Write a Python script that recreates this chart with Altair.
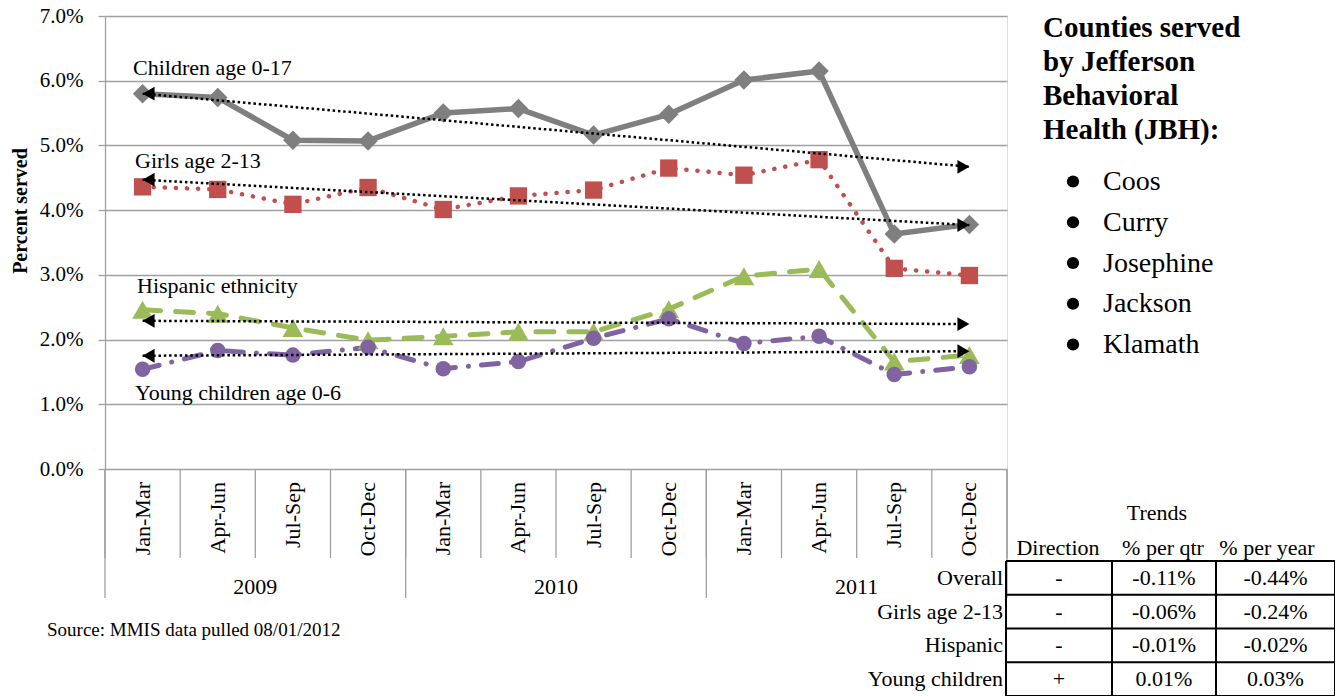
import altair as alt
import pandas as pd

# ---------------- data ----------------
quarters = ["Jan-Mar", "Apr-Jun", "Jul-Sep", "Oct-Dec"]
years = ["2009", "2010", "2011"]
series_names = ["Children age 0-17", "Girls age 2-13", "Hispanic ethnicity", "Young children age 0-6"]
children = [5.80, 5.74, 5.08, 5.07, 5.50, 5.57, 5.16, 5.48, 6.01, 6.15, 3.63, 3.78]
girls = [4.36, 4.32, 4.09, 4.35, 4.01, 4.22, 4.31, 4.65, 4.54, 4.78, 3.10, 2.99]
hispanic = [2.46, 2.40, 2.18, 1.99, 2.05, 2.12, 2.12, 2.47, 2.98, 3.09, 1.66, 1.76]
young = [1.54, 1.83, 1.76, 1.88, 1.55, 1.66, 2.02, 2.32, 1.94, 2.05, 1.46, 1.58]
trend_start = [5.80, 4.47, 2.29, 1.75]
trend_end = [4.67, 3.77, 2.24, 1.82]
y_ticks = [0, 1, 2, 3, 4, 5, 6, 7]
y_title = "Percent served"
source_note = "Source: MMIS data pulled 08/01/2012"
legend_title = ["Counties served", "by Jefferson", "Behavioral", "Health (JBH):"]
counties = ["Coos", "Curry", "Josephine", "Jackson", "Klamath"]
table_title = "Trends"
table_headers = ["Direction", "% per qtr", "% per year"]
table_rows = ["Overall", "Girls age 2-13", "Hispanic", "Young children"]
direction = ["-", "-", "-", "+"]
per_qtr = ["-0.11%", "-0.06%", "-0.01%", "0.01%"]
per_year = ["-0.44%", "-0.24%", "-0.02%", "0.03%"]

# ---------------- layout / style ----------------
FONT = "Liberation Serif"
W, H = 902, 453
PAD = {"left": 97, "top": 8, "right": 328, "bottom": 227}
GRID = "#A0A0A0"
styles = {
    "Children age 0-17": dict(color="#7F7F7F", width=5.5, dash=None, cap="butt", shape="diamond", size=380),
    "Girls age 2-13": dict(color="#C0504D", width=4.5, dash=[0.1, 11], cap="round", shape="square", size=300),
    "Hispanic ethnicity": dict(color="#9BBB59", width=5, dash=[18, 15], cap="round", shape="triangle-up", size=430),
    "Young children age 0-6": dict(color="#8064A2", width=5, dash=[17, 13, 0.1, 13], cap="round", shape="circle", size=240),
}

n_per = len(years) * len(quarters)
rows = []
for name, vals in zip(series_names, [children, girls, hispanic, young]):
    for i, v in enumerate(vals):
        rows.append({"series": name, "i": i, "v": v / 100.0})
df = pd.DataFrame(rows)

trend_rows = []
for name, s, e in zip(series_names, trend_start, trend_end):
    trend_rows.append({"series": name, "i": 0, "v": s / 100.0, "end": "start"})
    trend_rows.append({"series": name, "i": n_per - 1, "v": e / 100.0, "end": "end"})
trend_df = pd.DataFrame(trend_rows)

x_scale = alt.Scale(domain=[-0.5, n_per - 0.5], nice=False, zero=False)
y_scale = alt.Scale(domain=[0, 0.07], nice=False)
X = alt.X("i:Q", scale=x_scale, axis=None)
Y = alt.Y(
    "v:Q",
    scale=y_scale,
    axis=alt.Axis(
        values=[t / 100.0 for t in y_ticks], format=".1%", title=None,
        grid=True, gridColor=GRID, gridWidth=1.3,
        domainColor=GRID, domainWidth=1.3, tickColor=GRID, tickWidth=1.3, tickSize=7,
        labelFont=FONT, labelFontSize=21, labelColor="black", labelPadding=15,
    ),
)

layers = []

# x-axis decorations (separators, quarter and year labels)
sep_df = pd.DataFrame({"i": [k - 0.5 for k in range(n_per + 1)]})
layers.append(alt.Chart(sep_df).mark_rule(color=GRID, strokeWidth=1.3).encode(
    x=X, y=alt.value(H), y2=alt.value(542)))
ysep_df = pd.DataFrame({"i": [k * len(quarters) - 0.5 for k in range(len(years) + 1)]})
layers.append(alt.Chart(ysep_df).mark_rule(color=GRID, strokeWidth=1.3).encode(
    x=X, y=alt.value(H), y2=alt.value(582)))
q_df = pd.DataFrame({"i": list(range(n_per)), "q": quarters * len(years)})
layers.append(alt.Chart(q_df).mark_text(angle=270, align="right", baseline="middle", font=FONT,
                                         fontSize=22, color="black").encode(
    x=X, y=alt.value(466), text="q:N"))
yr_df = pd.DataFrame({"i": [k * len(quarters) + (len(quarters) - 1) / 2 for k in range(len(years))], "yr": years})
layers.append(alt.Chart(yr_df).mark_text(align="center", baseline="middle", font=FONT,
                                          fontSize=22, color="black").encode(
    x=X, y=alt.value(571), text="yr:N"))

# series lines
for name in series_names:
    st = styles[name]
    kw = dict(color=st["color"], strokeWidth=st["width"], strokeCap=st["cap"], strokeJoin="round")
    if st["dash"]:
        kw["strokeDash"] = st["dash"]
    layers.append(alt.Chart(df[df.series == name]).mark_line(**kw).encode(x=X, y=Y))
# markers
for name in series_names:
    st = styles[name]
    layers.append(alt.Chart(df[df.series == name]).mark_point(
        shape=st["shape"], size=st["size"], filled=True, opacity=1, color=st["color"], strokeWidth=0
    ).encode(x=X, y=Y))

# trend lines with arrow heads
layers.append(alt.Chart(trend_df).mark_line(color="black", strokeWidth=2.5, strokeDash=[2.5, 2.8]).encode(
    x=X, y=Y, detail="series:N"))
layers.append(alt.Chart(trend_df[trend_df.end == "start"]).mark_point(
    shape="triangle-left", size=190, filled=True, opacity=1, color="black", strokeWidth=0, xOffset=6
).encode(x=X, y=Y))
layers.append(alt.Chart(trend_df[trend_df.end == "end"]).mark_point(
    shape="triangle-right", size=190, filled=True, opacity=1, color="black", strokeWidth=0, xOffset=-6
).encode(x=X, y=Y))

# series labels
label_pos = [(28, 59), (30, 152), (32, 277), (30, 384)]
for name, (lx, ly) in zip(series_names, label_pos):
    layers.append(alt.Chart(pd.DataFrame({"t": [name]})).mark_text(
        align="left", baseline="alphabetic", font=FONT, fontSize=22, color="black"
    ).encode(x=alt.value(lx), y=alt.value(ly), text="t:N"))

# y title
layers.append(alt.Chart(pd.DataFrame({"t": [y_title]})).mark_text(
    angle=270, align="center", baseline="middle", font=FONT, fontSize=20, fontWeight="bold", color="black"
).encode(x=alt.value(-84), y=alt.value(195), text="t:N"))

# source note
layers.append(alt.Chart(pd.DataFrame({"t": [source_note]})).mark_text(
    align="left", baseline="alphabetic", font=FONT, fontSize=19, color="black"
).encode(x=alt.value(-58), y=alt.value(620), text="t:N"))

# legend box (counties)
layers.append(alt.Chart(pd.DataFrame({"t": ["\n".join(legend_title)]})).mark_text(
    align="left", baseline="alphabetic", font=FONT, fontSize=29, fontWeight="bold", color="black",
    lineBreak="\n", lineHeight=34
).encode(x=alt.value(938), y=alt.value(21), text="t:N"))
layers.append(alt.Chart(pd.DataFrame({"t": ["\n".join(counties)]})).mark_text(
    align="left", baseline="alphabetic", font=FONT, fontSize=28, color="black",
    lineBreak="\n", lineHeight=40.75
).encode(x=alt.value(998), y=alt.value(174), text="t:N"))
bullet_df = pd.DataFrame({"px": [968] * len(counties), "py": [174 + k * 40.75 - 8.5 for k in range(len(counties))]})
layers.append(alt.Chart(bullet_df).mark_point(shape="circle", size=150, filled=True, opacity=1,
                                               color="black", strokeWidth=0).encode(
    x=alt.X("px:Q", scale=None, axis=None), y=alt.Y("py:Q", scale=None, axis=None)))

# trends table
col_edges = [901, 1007, 1111, 1230]
row_top, row_h = 545, 33.75
header_x = [953, 1058, 1162]
header_y = 532
label_right = 898
cells = []
for r in range(len(table_rows)):
    cy = row_top + (r + 0.5) * row_h
    for c, col in enumerate([direction, per_qtr, per_year]):
        cells.append({"t": col[r], "px": (col_edges[c] + col_edges[c + 1]) / 2, "py": cy})
cell_df = pd.DataFrame(cells)
rowlab_df = pd.DataFrame({"t": table_rows, "px": [label_right] * len(table_rows),
                          "py": [row_top + (r + 0.5) * row_h for r in range(len(table_rows))]})
head_df = pd.DataFrame({"t": table_headers, "px": header_x, "py": [header_y] * len(table_headers)})
PX = alt.X("px:Q", scale=None, axis=None)
PY = alt.Y("py:Q", scale=None, axis=None)
layers.append(alt.Chart(cell_df).mark_text(align="center", baseline="middle", font=FONT, fontSize=22,
                                            color="black").encode(x=PX, y=PY, text="t:N"))
layers.append(alt.Chart(rowlab_df).mark_text(align="right", baseline="middle", font=FONT, fontSize=22,
                                              color="black").encode(x=PX, y=PY, text="t:N"))
layers.append(alt.Chart(head_df).mark_text(align="center", baseline="middle", font=FONT, fontSize=22,
                                            color="black").encode(x=PX, y=PY, text="t:N"))
layers.append(alt.Chart(pd.DataFrame({"t": [table_title]})).mark_text(
    align="center", baseline="middle", font=FONT, fontSize=22, color="black"
).encode(x=alt.value(1052), y=alt.value(497), text="t:N"))
lines = []
n_rows = len(table_rows)
for k in range(n_rows + 1):
    yk = row_top + k * row_h
    lines.append({"x1": col_edges[0], "x2": col_edges[-1], "y1": yk, "y2": yk})
for e in col_edges:
    lines.append({"x1": e, "x2": e, "y1": row_top, "y2": row_top + n_rows * row_h})
lines_df = pd.DataFrame(lines)
layers.append(alt.Chart(lines_df).mark_rule(color="black", strokeWidth=2).encode(
    x=alt.X("x1:Q", scale=None, axis=None), x2="x2:Q",
    y=alt.Y("y1:Q", scale=None, axis=None), y2="y2:Q"))

chart = alt.layer(*layers).properties(
    width=W, height=H,
    autosize=alt.AutoSizeParams(type="none"),
    padding=PAD,
).configure_view(strokeWidth=0).configure(font=FONT)

chart.save("out.html", embed_options={"renderer": "svg", "actions": False})
